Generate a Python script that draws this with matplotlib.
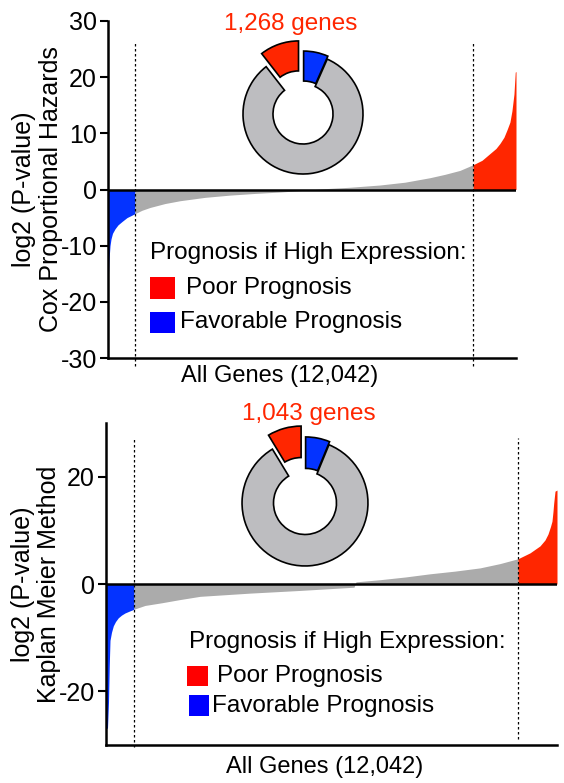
import matplotlib
matplotlib.use("Agg")
import matplotlib.pyplot as plt
from matplotlib.patches import Rectangle

plt.rcParams['font.family'] = ['Liberation Sans', 'DejaVu Sans']
plt.rcParams['axes.unicode_minus'] = False

# total genes and significant counts
n_genes = 12042
label_total = "All Genes (12,042)"

# Cox proportional hazards: sorted log2(P) per gene (signed by direction)
cox_genes = [0, 15, 30, 59, 89, 133, 207, 295, 413, 561, 797,
             1003, 1240, 1682, 2124, 2862, 3600, 4338, 5075, 5665, 6108,
             6551, 7142, 8027, 8765, 9503, 9945, 10388, 10774,
             11039, 11273, 11450, 11568, 11686, 11775, 11863, 11922, 11952,
             11982, 12020, 12042]
cox_log2p = [-17.0, -15.0, -12.5, -10.0, -8.8, -7.8, -7.0, -6.3, -5.7, -5.0, -4.3,
             -3.7, -3.2, -2.5, -2.0, -1.4, -1.0, -0.7, -0.45, -0.2, 0.0,
             0.2, 0.4, 0.8, 1.3, 2.1, 2.7, 3.4, 4.4,
             5.2, 6.4, 7.3, 8.2, 9.3, 10.6, 12.0, 14.0, 15.5,
             17.0, 20.9, 21.0]
cox_favorable = 797
cox_poor = 1268

# Kaplan Meier
km_genes = [0, 40, 67, 88, 107, 147, 195, 254, 328, 414, 507, 641, 748,
            1041, 1487, 1976, 2510, 3845, 5180, 6622,
            6675, 7316, 7984, 8651, 9318, 9986, 10520, 10999,
            11321, 11588, 11721, 11801, 11868, 11908, 11935, 11953, 11989, 12042]
km_log2p = [-27.0, -26.8, -22.0, -15.0, -10.5, -9.0, -7.8, -7.0, -6.3, -5.8, -5.4,
            -5.0, -4.7,
            -4.0, -3.5, -2.9, -2.3, -1.7, -1.2, -0.6,
            0.4, 0.8, 1.3, 1.9, 2.4, 3.0, 3.8, 4.7,
            5.8, 7.1, 8.2, 9.3, 10.7, 11.7, 13.5, 15.0, 17.3, 17.5]
km_favorable = 748
km_poor = 1043

RED = '#FF2600'
BLUE = '#0433FF'
GRAY = '#ABABAB'
PIE_GRAY = '#BDBDC0'

W, H = 564, 783
FS = 17.5


def box(l, t, r, b):
    return [l / W, 1 - b / H, (r - l) / W, (b - t) / H]


def waterfall(ax, genes, vals, n_fav, n_poor, yticks, ylabel, label_x, dot_lims):
    lo = n_fav
    hi = n_genes - n_poor
    blue = [i for i, g in enumerate(genes) if g <= lo]
    gray = [i for i, g in enumerate(genes) if lo <= g <= hi]
    red = [i for i, g in enumerate(genes) if g >= hi]
    for idx, c in ((blue, BLUE), (gray, GRAY), (red, RED)):
        ax.fill_between([genes[i] for i in idx], [vals[i] for i in idx], 0,
                        color=c, lw=0)
    ax.axhline(0, color='black', lw=1.8, zorder=3)
    for x, (ymin, ymax) in zip((lo, hi), dot_lims):
        ax.axvline(x, ymin=ymin, ymax=ymax, color='black', lw=0.9,
                   linestyle=(0, (2, 2)), clip_on=False)
    ax.set_xlim(0, n_genes)
    ax.set_ylim(-30, 30)
    ax.set_yticks(yticks)
    ax.set_xticks([])
    for s in ('top', 'right'):
        ax.spines[s].set_visible(False)
    for s in ('left', 'bottom'):
        ax.spines[s].set_linewidth(1.8)
    ax.tick_params(axis='y', length=6, width=1.5, labelsize=18, pad=2)
    ax.set_ylabel(ylabel, fontsize=18, linespacing=1.15)
    ax.yaxis.set_label_coords(label_x, 0.5)


def donut(rect, n_fav, n_poor):
    ax = fig.add_axes(rect)
    sizes = [n_fav, n_genes - n_fav - n_poor, n_poor]
    ax.pie(sizes, colors=[BLUE, PIE_GRAY, RED], startangle=90, counterclock=False,
           explode=[0.05, 0, 0.23],
           wedgeprops=dict(width=0.5, edgecolor='black', linewidth=1.2))
    ax.set_xlim(-1.35, 1.35)
    ax.set_ylim(-1.35, 1.35)
    ax.set_aspect('equal')
    ax.axis('off')


def legend(x_head, y_head, red_sq, poor_xy, blue_sq, fav_xy):
    fig.text(x_head / W, 1 - y_head / H, "Prognosis if High Expression:",
             fontsize=FS, va='center')
    for (l, t, r, b), c in ((red_sq, '#FF0000'), (blue_sq, '#0000FF')):
        fig.add_artist(Rectangle((l / W, 1 - b / H), (r - l) / W, (b - t) / H,
                                 transform=fig.transFigure, color=c, lw=0))
    fig.text(poor_xy[0] / W, 1 - poor_xy[1] / H, "Poor Prognosis",
             fontsize=FS, va='center')
    fig.text(fav_xy[0] / W, 1 - fav_xy[1] / H, "Favorable Prognosis",
             fontsize=FS, va='center')


fig = plt.figure(figsize=(W / 100, H / 100), dpi=100)

ax1 = fig.add_axes(box(108, 21, 516, 358))
waterfall(ax1, cox_genes, cox_log2p, cox_favorable, cox_poor,
          [-30, -20, -10, 0, 10, 20, 30],
          "log2 (P-value)\nCox Proportional Hazards", -0.110,
          [(-0.024, 0.938), (-0.024, 0.938)])

ax2 = fig.add_axes(box(106, 423, 557, 745))
waterfall(ax2, km_genes, km_log2p, km_favorable, km_poor, [-20, 0, 20],
          "log2 (P-value)\nKaplan Meier Method", -0.099,
          [(-0.006, 0.953), (0.02, 0.953)])

fig.text(280 / W, 1 - 376 / H, label_total, fontsize=17, ha='center', va='center')
fig.text(325 / W, 1 - 767 / H, label_total, fontsize=17, ha='center', va='center')

donut(box(303 - 81, 114 - 81, 303 + 81, 114 + 81), cox_favorable, cox_poor)
donut(box(305 - 85, 503 - 85, 305 + 85, 503 + 85), km_favorable, km_poor)

fig.text(291 / W, 1 - 24 / H, f"{cox_poor:,} genes", color=RED, fontsize=FS,
         ha='center', va='center')
fig.text(309 / W, 1 - 414 / H, f"{km_poor:,} genes", color=RED, fontsize=FS,
         ha='center', va='center')

legend(150, 253, (150, 277, 175, 299), (186, 288), (150, 312, 175, 333), (180, 322))
legend(189, 642, (187, 666, 208, 686), (217, 676), (189, 695, 209, 716), (212, 706))

fig.savefig("out.png", dpi=100)
